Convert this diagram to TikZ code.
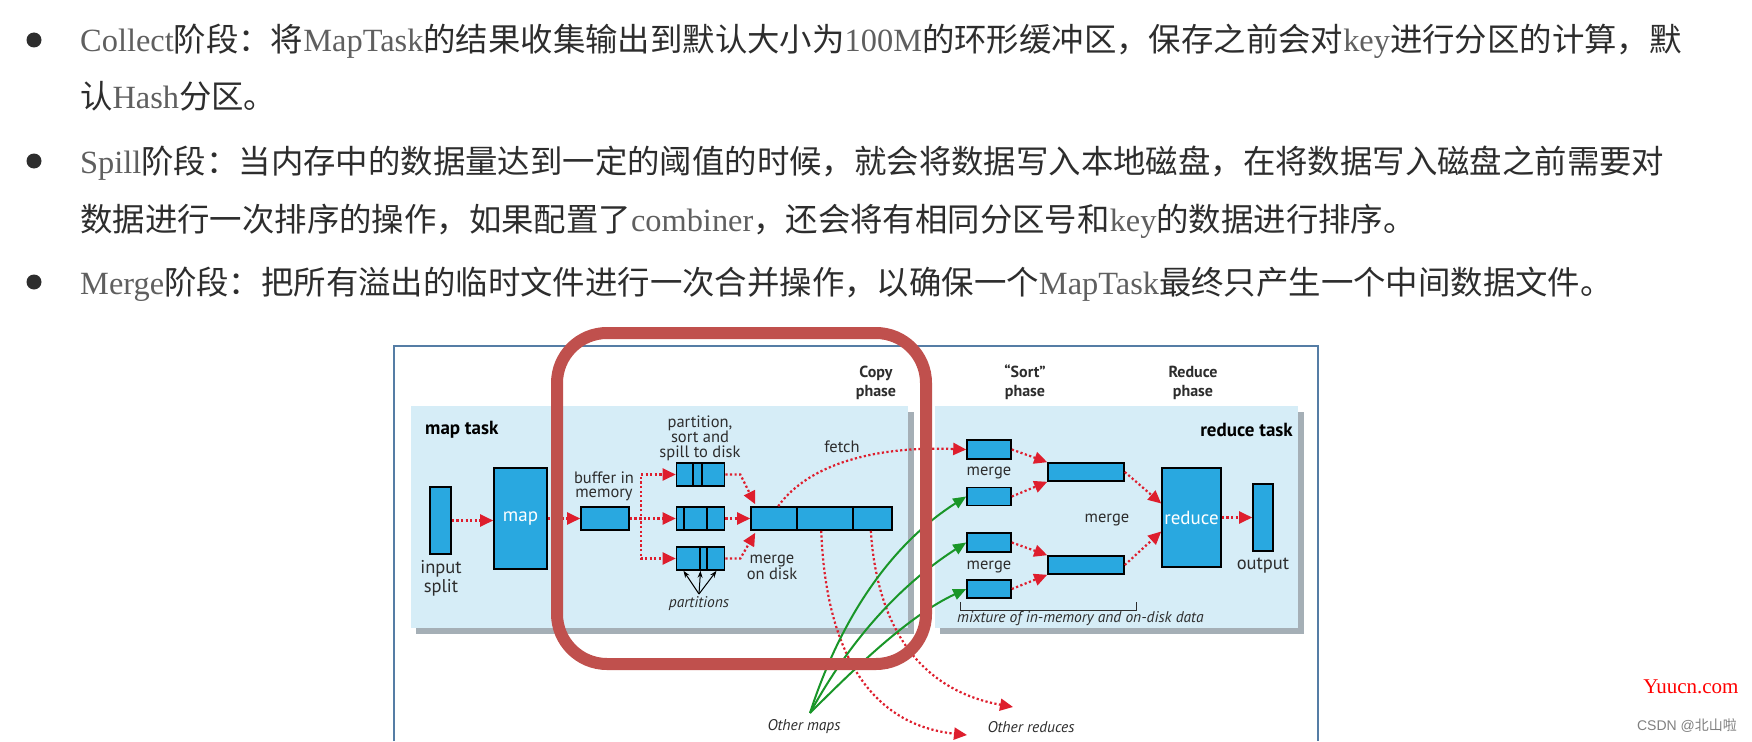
\documentclass[tikz,border=0pt]{standalone}
\usepackage{fontspec}
\setmainfont{PT Sans}
\newfontfamily\cjk{Noto Sans CJK SC}
\newfontfamily\latf{Liberation Serif}
\newfontfamily\csdnfont{Liberation Sans}
\usetikzlibrary{arrows.meta,calc}
\definecolor{panel}{RGB}{214,237,247}
\definecolor{boxblue}{RGB}{41,168,224}
\definecolor{dotred}{RGB}{222,30,45}
\definecolor{grn}{RGB}{25,150,40}
\definecolor{frameblue}{RGB}{85,125,165}
\definecolor{hilite}{RGB}{192,80,77}
\definecolor{txt}{RGB}{45,45,45}
\definecolor{latc}{RGB}{95,95,95}
\definecolor{shadowc}{RGB}{165,175,182}
\newcommand\latw[1]{{\latf\color{latc}#1}}
\tikzset{
  bodytxt/.style={font=\cjk\fontsize{32.4}{34}\selectfont, text=txt, inner sep=0pt, anchor=base west},
  bx/.style={draw=black, line width=1.6pt, fill=boxblue, inner sep=0pt},
  rd/.style={draw=dotred, line width=2.2pt, dash pattern=on 2.2pt off 2.4pt, -{Triangle[length=13pt,width=12pt]}},
  gr/.style={draw=grn, line width=2pt, -{Triangle[length=13pt,width=11pt]}},
  blk/.style={draw=black, line width=1pt, -{Stealth[length=7pt,width=5pt]}},
  lab/.style={font=\fontsize{16.5}{14.5}\selectfont, text=txt, align=center, inner sep=0pt},
  lab2/.style={font=\fontsize{18.5}{19}\selectfont, text=txt, align=center, inner sep=0pt},
  phase/.style={font=\bfseries\fontsize{16}{19}\selectfont, text=txt, align=center, inner sep=0pt},
  task/.style={font=\bfseries\fontsize{19}{20}\selectfont, text=black, inner sep=0pt},
  itl/.style={font=\itshape\fontsize{15.5}{16}\selectfont, text=txt, inner sep=0pt},
  wlab/.style={font=\fontsize{19}{19}\selectfont, text=white, inner sep=0pt},
  divl/.style={draw=black, line width=1.3pt}
}
\begin{document}
\begin{tikzpicture}[x=1pt,y=-1pt]
\useasboundingbox[fill=white] (0,0) rectangle (1752,741);

% ---------- bullet text ----------
\fill[txt] (34,40) circle (7.5pt);
\fill[txt] (34,161) circle (7.5pt);
\fill[txt] (34,282) circle (7.5pt);
\node[bodytxt] (t1) at (80,52) {\latw{Collect}阶段：将\latw{MapTask}的结果收集输出到默认大小为\latw{100M}的环形缓冲区，保存之前会对\latw{key}进行分区的计算，默};
\node[bodytxt] (t2) at (80,109) {认\latw{Hash}分区。};
\node[bodytxt] (t3) at (80,173) {\latw{Spill}阶段：当内存中的数据量达到一定的阈值的时候，就会将数据写入本地磁盘，在将数据写入磁盘之前需要对};
\node[bodytxt] (t4) at (80,231) {数据进行一次排序的操作，如果配置了\latw{combiner}，还会将有相同分区号和\latw{key}的数据进行排序。};
\node[bodytxt] (t5) at (80,294) {\latw{Merge}阶段：把所有溢出的临时文件进行一次合并操作，以确保一个\latw{MapTask}最终只产生一个中间数据文件。};

% ---------- diagram frame and panels ----------
\draw[frameblue, line width=1.8pt] (394,741) -- (394,346) -- (1318,346) -- (1318,741);
\fill[shadowc] (416,412) rectangle (914,634);
\fill[panel] (411,406) rectangle (908,628);
\fill[shadowc] (940,412) rectangle (1304,634);
\fill[panel] (935,406) rectangle (1298,628);

% phase labels
\node[phase] (copyl) at (876,382.5) {Copy\\phase};
\node[phase] (sortl) at (1025,382.5) {“Sort”\\phase};
\node[phase] (redl) at (1193,382.5) {Reduce\\phase};
\node[task, anchor=west] (maptask) at (425,430) {map task};
\node[task, anchor=east] (redtask) at (1293,430) {reduce task};

% ---------- map side boxes ----------
\node[bx, minimum width=21pt, minimum height=67pt] (split) at (440.5,520.5) {};
\node[bx, minimum width=53pt, minimum height=101pt] (map) at (520.5,518.5) {};
\node[wlab] (mapt) at (map.center) {map};
\node[bx, minimum width=48pt, minimum height=23pt] (buf) at (605,518.5) {};
\node[bx, minimum width=48pt, minimum height=23pt] (p1) at (700.5,474.5) {};
\node[bx, minimum width=48pt, minimum height=23pt] (p2) at (700.5,518.5) {};
\node[bx, minimum width=48pt, minimum height=23pt] (p3) at (700.5,558.5) {};
\node[bx, minimum width=141pt, minimum height=23pt] (md) at (821.5,518.5) {};
\draw[divl] (693,463) -- (693,486);
\draw[divl] (702,463) -- (702,486);
\draw[divl] (684,507) -- (684,530);
\draw[divl] (707,507) -- (707,530);
\draw[divl] (700,547) -- (700,570);
\draw[divl] (707,547) -- (707,570);
\draw[divl] (797,507) -- (797,530);
\draw[divl] (853,507) -- (853,530);

% map side labels
\node[lab2] (splitl) at (441,578.5) {input\\split};
\node[lab] (bufl) at (604,486.5) {buffer in\\memory};
\node[lab] (psl) at (700,438) {partition,\\sort and\\spill to disk};
\node[lab] (fetchl) at (842,447) {fetch};
\node[lab] (mdl) at (772,567.5) {merge\\on disk};
\node[itl] (partl) at (699,604) {partitions};
\coordinate (pt) at (699,594);

% map side arrows
\draw[rd] (split.east) -- (split.east -| map.west);
\draw[rd] (map.east) -- (buf.west);
\draw[rd] (buf.east) -- ++(11,0) |- (p1.west);
\draw[rd] (buf.east) -- (p2.west);
\draw[rd] (buf.east) -- ++(11,0) |- (p3.west);
\draw[rd] (p1.east) -- ++(15,0) -- ([xshift=5pt,yshift=2pt]md.north west);
\draw[rd] (p2.east) -- (md.west);
\draw[rd] (p3.east) -- ++(15,0) -- ([xshift=5pt,yshift=-2pt]md.south west);
\draw[blk] (pt) -- ([xshift=-17pt]p3.south);
\draw[blk] (pt) -- (p3.south);
\draw[blk] (pt) -- ([xshift=16pt]p3.south);

% ---------- reduce side ----------
\node[bx, minimum width=44pt, minimum height=19pt] (r1) at (989,449.5) {};
\node[bx, minimum width=44pt, minimum height=18pt] (r2) at (989,496.5) {};
\node[bx, minimum width=44pt, minimum height=19pt] (r3) at (989,542.5) {};
\node[bx, minimum width=44pt, minimum height=18pt] (r4) at (989,589) {};
\node[bx, minimum width=76pt, minimum height=18pt] (mA) at (1086,472) {};
\node[bx, minimum width=76pt, minimum height=18pt] (mB) at (1086,565) {};
\node[bx, minimum width=59pt, minimum height=99pt] (red) at (1191.5,517.5) {};
\node[wlab] (redt) at (red.center) {reduce};
\node[bx, minimum width=20pt, minimum height=67pt] (out) at (1263,517.5) {};

\node[lab] (m1l) at (989,473) {merge};
\node[lab] (m2l) at (989,567) {merge};
\node[lab] (m3l) at (1107,520) {merge};
\node[lab2] (outl) at (1263,566) {output};
\draw[txt, line width=1pt] (960,602) -- (960,610) -- (1136,610) -- (1136,602);
\node[itl, anchor=west] (mixl) at (957,619) {mixture of in-memory and on-disk data};

\draw[rd] (r1.east) -- (mA.north west);
\draw[rd] (r2.east) -- (mA.south west);
\draw[rd] (r3.east) -- (mB.north west);
\draw[rd] (r4.east) -- (mB.south west);
\draw[rd] (mA.east) -- ([yshift=14pt]red.west);
\draw[rd] (mB.east) -- ([yshift=-14pt]red.west);
\draw[rd] (red.east) -- (out.west);

% ---------- cross connectors ----------
\draw[rd] ([xshift=28pt]md.north west) .. controls (810,462) and (880,446) .. (r1.west);
\coordinate (or1) at (967,735);
\coordinate (or2) at (1013,707);
\draw[rd] ([xshift=71pt]md.south west) .. controls (826,655) and (872,725) .. (or1);
\draw[rd] ([xshift=-22pt]md.south east) .. controls (878,640) and (930,692) .. (or2);

\coordinate (om) at (810,713);
\draw[gr] (om) .. controls (840,620) and (890,545) .. (r2.west);
\draw[gr] (om) .. controls (850,640) and (900,585) .. (r3.west);
\draw[gr] (om) .. controls (858,665) and (910,615) .. (r4.west);

\node[itl] (oml) at (804,727) {Other maps};
\node[itl] (orl) at (1031,727) {Other reduces};

% ---------- highlight ----------
\draw[hilite, line width=12pt, rounded corners=50pt] (557,333) rectangle (926,664);

% ---------- watermarks ----------
\node[font=\latf\fontsize{21}{21}\selectfont, text=red, inner sep=0pt] (wm) at (1691,687) {Yuucn.com};
\node[font=\csdnfont\fontsize{14}{14}\selectfont, text=gray, inner sep=0pt] (csdn) at (1687,726) {CSDN @{\cjk 北山啦}};
\end{tikzpicture}
\end{document}
